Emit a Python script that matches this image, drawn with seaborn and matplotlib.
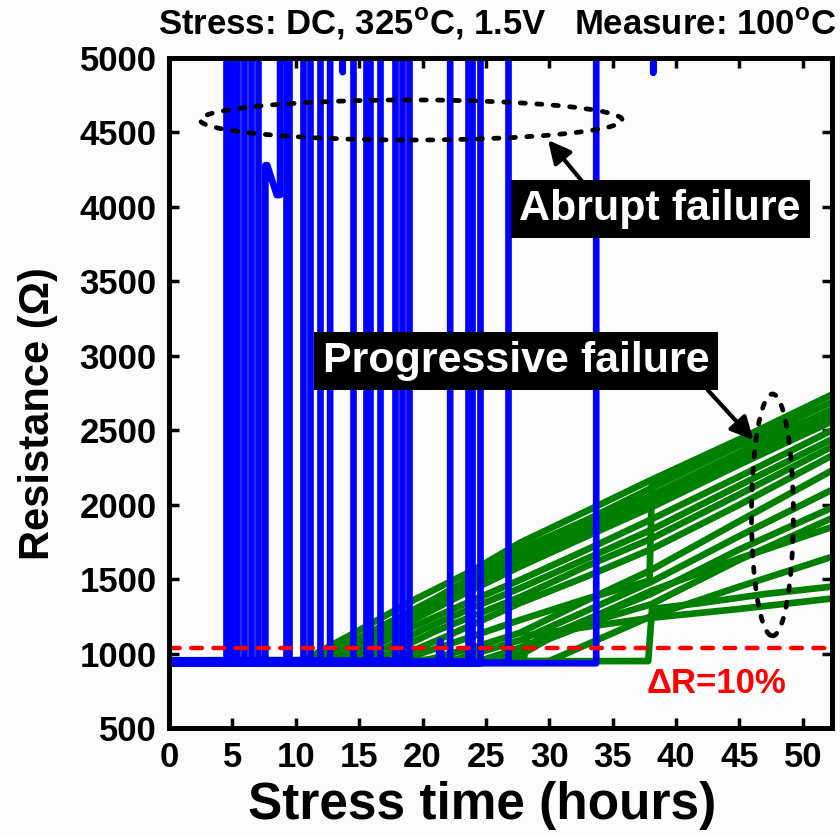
import matplotlib
matplotlib.use("Agg")
import matplotlib.pyplot as plt
from matplotlib.patches import Ellipse
import pandas as pd
import seaborn as sns

# ---------------------------------------------------------------- data
R0 = 945.0                  # fresh line resistance (ohm)
THRESH = 1.10 * R0          # ΔR = 10 % failure criterion
OPEN = 8000.0               # open circuit, far above the plotted range
T_END = 52.3                # end of the stress (h)

# abrupt failures: time of the open-circuit jump (h) and resistance before it
blue_fail_h = [4.50, 4.89, 5.37, 5.92, 6.47, 7.02, 9.23, 9.47, 10.58, 11.13,
               11.92, 12.71, 14.52, 15.55, 15.86, 16.65, 17.84, 18.39, 18.94,
               22.18, 23.60, 23.91, 24.55, 26.76, 33.70]
blue_base = [950, 940, 955, 945, 935, 950, 940, 945, 955, 935,
             945, 950, 940, 935, 950, 945, 955, 940, 935,
             945, 950, 940, 935, 945, 935]

# one line that first jumps only part way before opening
blue_partial_t = [0.0, 7.60, 7.60, 7.75, 8.50, 8.76, 8.76, T_END]
blue_partial_R = [950, 950, 4280, 4280, 4080, 4080, OPEN, OPEN]

# short excursions of opened lines back into range (index of line, t, R)
blue_dip_line = [11, 24]
blue_dip_t = [[13.62, 13.70, 13.78], [38.12, 38.20, 38.28]]
blue_dip_R = [[OPEN, 4905, OPEN], [OPEN, 4900, OPEN]]
# small pre-failure bump
blue_bump_line = 19
blue_bump_t = [21.25, 21.40, 21.55]
blue_bump_R = [945, 1085, 950]

# progressive failures: breakpoints (h) and resistance (ohm)
green_t = [
    [0, 10.5, 14, 19.3, 24, 27.7, 33, 38, 45, 52.3],
    [0, 11.5, 16, 21, 27.7, 33, 38, 45, 52.3],
    [0, 12.0, 17, 22, 27.7, 33, 38, 45, 52.3],
    [0, 12.5, 17, 22, 27.7, 33, 38, 45, 52.3],
    [0, 13.0, 18, 23, 27.7, 33, 38, 45, 52.3],
    [0, 14.0, 19, 24, 27.7, 33, 38, 45, 52.3],
    [0, 15.0, 20, 24, 27.7, 33, 38, 45, 52.3],
    [0, 16.0, 21, 27.7, 33, 38, 45, 52.3],
    [0, 18.0, 22, 27.7, 33, 37.9, 38.1, 45, 52.3],
    [0, 17.5, 22, 27.7, 33, 38, 45, 52.3],
    [0, 20.0, 24, 27.7, 33, 38, 45, 52.3],
    [0, 22.0, 27.7, 33, 38, 45, 52.3],
    [0, 24.5, 27.7, 33, 38, 45, 52.3],
    [0, 26.0, 30, 34, 38, 45, 52.3],
    [0, 28.0, 28.2, 33, 38, 45, 52.3],
    [0, 37.8, 38.1, 42, 47, 52.3],
    [0, 30.0, 34, 38, 45, 52.3],
    [0, 27.0, 31, 38, 45, 52.3],
]
green_R = [
    [945, 950, 1110, 1360, 1560, 1745, 1960, 2165, 2440, 2740],
    [950, 955, 1150, 1370, 1700, 1900, 2110, 2400, 2690],
    [945, 950, 1170, 1390, 1660, 1870, 2060, 2350, 2640],
    [940, 945, 1140, 1360, 1620, 1830, 2020, 2310, 2600],
    [945, 950, 1170, 1390, 1585, 1790, 1980, 2270, 2560],
    [950, 955, 1170, 1360, 1495, 1700, 1900, 2190, 2500],
    [945, 950, 1160, 1310, 1440, 1640, 1830, 2130, 2440],
    [940, 945, 1150, 1380, 1590, 1770, 2070, 2390],
    [945, 950, 1060, 1226, 1370, 1490, 2160, 2400, 2620],
    [950, 955, 1120, 1340, 1520, 1700, 2000, 2330],
    [945, 950, 1040, 1140, 1360, 1560, 1890, 2230],
    [940, 945, 1090, 1290, 1480, 1790, 2100],
    [945, 950, 1040, 1230, 1400, 1700, 1980],
    [950, 955, 1100, 1230, 1330, 1630, 1910],
    [955, 960, 1120, 1180, 1240, 1300, 1370],
    [945, 950, 1300, 1340, 1400, 1450],
    [945, 950, 1100, 1250, 1450, 1650],
    [950, 955, 1150, 1420, 1640, 1850],
]

x_ticks = list(range(0, 51, 5))
y_ticks = list(range(500, 5001, 500))

# ------------------------------------------------------- long tables
rows = []
for i, (tf, rb) in enumerate(zip(blue_fail_h, blue_base)):
    ts, rs = [0.0], [rb]
    if i == blue_bump_line:
        ts += blue_bump_t
        rs += blue_bump_R
    ts += [tf, tf]
    rs += [rb, OPEN]
    if i in blue_dip_line:
        k = blue_dip_line.index(i)
        ts += blue_dip_t[k]
        rs += blue_dip_R[k]
    ts.append(T_END)
    rs.append(OPEN)
    rows += [(f"b{i}", t, r) for t, r in zip(ts, rs)]
rows += [("bp", t, r) for t, r in zip(blue_partial_t, blue_partial_R)]
df_blue = pd.DataFrame(rows, columns=["line", "t", "R"])

rows = []
for i, (ts, rs) in enumerate(zip(green_t, green_R)):
    rows += [(f"g{i}", t, r) for t, r in zip(ts, rs)]
df_green = pd.DataFrame(rows, columns=["line", "t", "R"])

# ------------------------------------------------------------ style
sns.set_style("ticks")
plt.rcParams["font.family"] = ["Liberation Sans", "DejaVu Sans"]
plt.rcParams["font.weight"] = "bold"
plt.rcParams["mathtext.fontset"] = "custom"
plt.rcParams["mathtext.rm"] = "Liberation Sans:bold"
plt.rcParams["mathtext.bf"] = "Liberation Sans:bold"
for key in ("text.color", "axes.labelcolor", "xtick.color", "ytick.color",
            "axes.edgecolor"):
    plt.rcParams[key] = "black"

BG = "#fbfbfb"
fig = plt.figure(figsize=(8.4, 8.35), dpi=100, facecolor=BG)
ax = fig.add_axes([0.2012, 0.1281, 0.7893, 0.8024], facecolor=BG)

line_kw = dict(units="line", estimator=None, sort=False, legend=False,
               lw=4.8, solid_capstyle="round", solid_joinstyle="round", ax=ax)
sns.lineplot(data=df_green, x="t", y="R", color="#008000", **line_kw)
sns.lineplot(data=df_blue, x="t", y="R", color="#0000ff", **line_kw)

ax.axhline(THRESH, color="#ff0000", lw=3.2, ls=(0, (2.4, 2.6)),
           dash_capstyle="round", zorder=5)

ax.set_xlim(0, T_END)
ax.set_ylim(500, 5000)
ax.set_xticks(x_ticks)
ax.set_yticks(y_ticks)
ax.tick_params(direction="in", length=7, width=2.5, labelsize=25, pad=9,
               top=True, right=True, colors="black")
for lab in ax.get_xticklabels() + ax.get_yticklabels():
    lab.set_fontweight("bold")
for sp in ax.spines.values():
    sp.set_linewidth(3.6)
    sp.set_color("black")
    sp.set_zorder(10)

ax.set_xlabel("Stress time (hours)", fontsize=37, fontweight="bold", va="center")
ax.xaxis.set_label_coords(0.473, -0.115)
ax.set_ylabel("Resistance (Ω)", fontsize=30, fontweight="bold", va="center")
ax.yaxis.set_label_coords(-0.198, 0.470)

fig.text(0.592, 1 - 24 / 835,
         r"Stress: DC, 325$^{\mathbf{o}}$C, 1.5V   Measure: 100$^{\mathbf{o}}$C",
         ha="center", va="center", fontsize=25, fontweight="bold")

# ------------------------------------------------------ annotations
ell_kw = dict(fill=False, ec="black", lw=3.4, ls=(0, (1.1, 2.4)),
              capstyle="round", zorder=6)
ax.add_patch(Ellipse((19.1, 4584), 33.3, 269, **ell_kw))
ax.add_patch(Ellipse((47.6, 1931), 3.3, 1625, **ell_kw))

box = dict(boxstyle="square,pad=0.2", fc="black", ec="none")
ax.text(38.75, 3986, "Abrupt failure", color="white", fontsize=31,
        fontweight="bold", ha="center", va="center", bbox=box, zorder=8)
ax.text(27.4, 2965, "Progressive failure", color="white", fontsize=31,
        fontweight="bold", ha="center", va="center", bbox=box, zorder=8)

arrow = dict(arrowstyle="-|>", lw=3, color="black", mutation_scale=34,
             shrinkA=0, shrinkB=0)
ax.annotate("", xy=(29.9, 4449), xytext=(32.7, 4160), arrowprops=arrow, zorder=7)
ax.annotate("", xy=(46.1, 2435), xytext=(42.5, 2770), arrowprops=arrow, zorder=7)

ax.text(43.2, 796, "ΔR=10%", color="#ff0000", fontsize=25,
        fontweight="bold", ha="center", va="center")

fig.savefig("out.png", dpi=100, facecolor=BG)
